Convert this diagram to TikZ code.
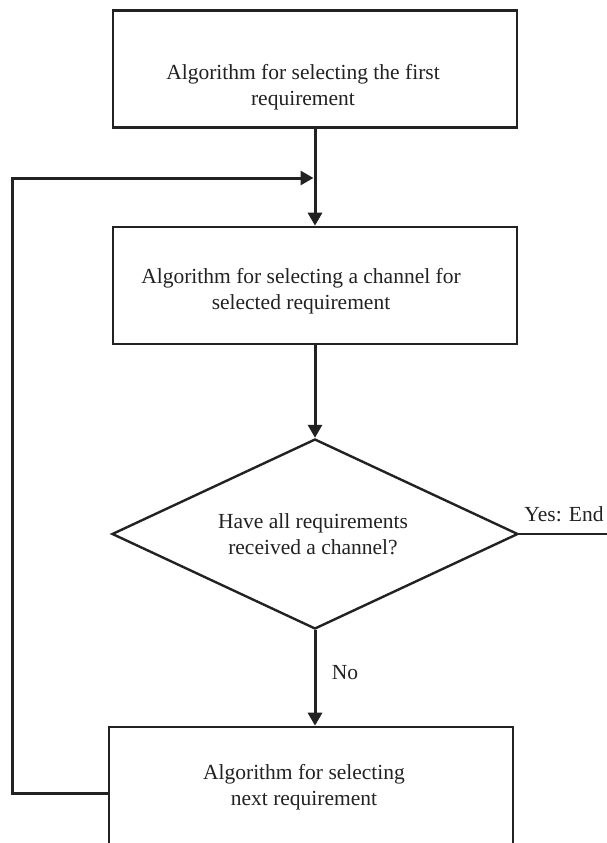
\documentclass[tikz,border=0pt]{standalone}
\usepackage{fontspec}
\setmainfont{Liberation Serif}
\usetikzlibrary{shapes.geometric,arrows.meta}
\definecolor{ink}{HTML}{222222}
\begin{document}
\begin{tikzpicture}[x=1pt,y=-1pt,
  box/.style={draw=ink,line width=2.6pt,minimum width=404pt,minimum height=117pt,inner sep=0pt},
  decision/.style={diamond,draw=ink,line width=2.4pt,minimum width=406pt,minimum height=190pt,inner sep=0pt},
  txt/.style={text=ink,font=\fontsize{21.5}{26}\selectfont,align=center,inner sep=0pt},
  flow/.style={draw=ink,line width=3pt,-{Triangle[length=13pt,width=14pt]}},
  plain/.style={draw=ink,line width=2.4pt}]
\clip (0,0) rectangle (607,843);
\fill[white] (0,0) rectangle (607,843);

% process boxes and the decision
\node[box] (first) at (315,69) {};
\node[txt] (firstt) at (303,87) {Algorithm for selecting the first\\requirement};
\node[box] (chan) at (315,285.5) {};
\node[txt] (chant) at (301,291) {Algorithm for selecting a channel for\\selected requirement};
\node[decision] (dec) at (315,534) {};
\node[txt] (dect) at (313,534) {Have all requirements\\received a channel?};
\node[box, minimum height=118pt] (next) at (311,786) {};
\node[txt] (nextt) at (304,787) {Algorithm for selecting\\next requirement};

% labels on the branches
\node[txt] (yes) at (564,514) {Yes: End};
\node[txt] (no) at (345,673) {No};

% connectors
\coordinate (yesend) at (607,534);
\coordinate (loopcorner) at (12,178);
\coordinate (loopstart) at (next.west |- 0,793);

\draw[flow] (first.south) -- (chan.north);
\draw[flow] (chan.south) -- (dec.north);
\draw[flow] (dec.south) -- (dec.south |- next.north);
\draw[plain] (dec.east) -- (yesend);
\draw[flow, shorten >=1.5pt] (loopstart) -| (loopcorner) -- (loopcorner -| first.south);
\end{tikzpicture}
\end{document}
